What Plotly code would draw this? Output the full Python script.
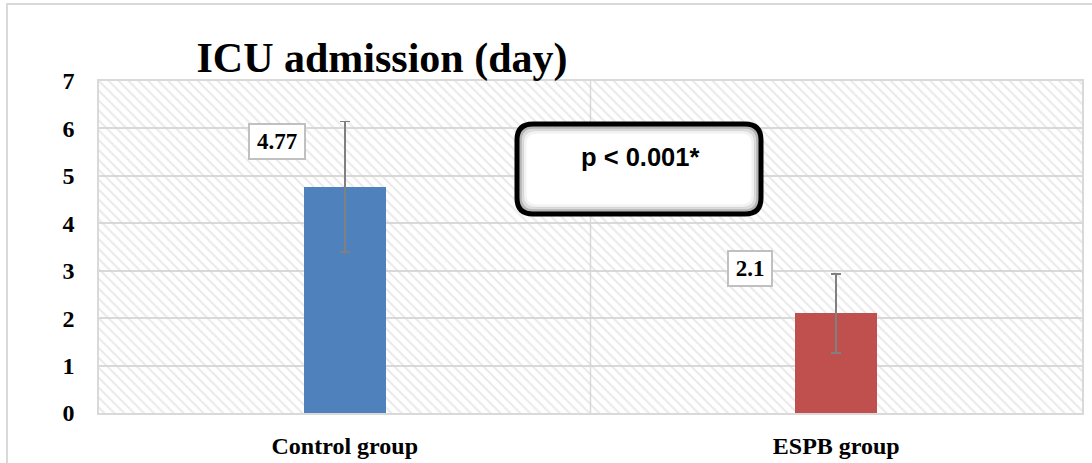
import plotly.graph_objects as go

# ---- data ----
categories = ["Control group", "ESPB group"]
means = [4.77, 2.1]
sds = [1.38, 0.83]
label_texts = ["4.77", "2.1"]
title_text = "ICU admission (day)"
p_text = "p < 0.001*"
y_ticks = [0, 1, 2, 3, 4, 5, 6, 7]

# ---- layout geometry (pixels) ----
W, H = 1092, 463
L, R, T, B = 99, 10, 81, 50
PW, PH = W - L - R, H - T - B

def px(xp):
    return (xp - L) / PW

def py(yp):
    return (H - B - yp) / PH

bar_colors = ["#4f81bd", "#c0504d"]
xpos = [0.5, 1.5]

fig = go.Figure()

# hatched plot-area background
fig.add_trace(go.Bar(
    x=[1], y=[max(y_ticks)], width=[2],
    marker=dict(color="rgba(0,0,0,0)", line=dict(width=0),
                pattern=dict(shape="\\", fgcolor="#d4d4d4", bgcolor="rgba(0,0,0,0)",
                             size=7, solidity=0.28)),
    hoverinfo="skip", showlegend=False))

# data bars
fig.add_trace(go.Bar(
    x=xpos, y=means, width=0.167,
    marker=dict(color=bar_colors, line=dict(width=0)),
    error_y=dict(type="data", array=sds, visible=True, color="#808080",
                 thickness=1.6, width=5),
    showlegend=False))

# data labels
xshifts = [-68, -86]
widths = [46, 34]
for xv, m, t, xs, w in zip(xpos, means, label_texts, xshifts, widths):
    fig.add_annotation(x=xv, y=m, text=f"<b>{t}</b>", showarrow=False,
                       xshift=xs, yshift=45, xref="x", yref="y",
                       xanchor="center", yanchor="middle",
                       font=dict(family="Liberation Serif", size=23, color="black"),
                       bgcolor="white", bordercolor="#c0c0c0", borderwidth=2,
                       borderpad=4, width=w)

# rounded p-value box with inner shadow
def rounded(x0, y0, x1, y1, r):
    return (f"M {px(x0 + r)},{py(y0)} L {px(x1 - r)},{py(y0)} "
            f"Q {px(x1)},{py(y0)} {px(x1)},{py(y0 + r)} "
            f"L {px(x1)},{py(y1 - r)} Q {px(x1)},{py(y1)} {px(x1 - r)},{py(y1)} "
            f"L {px(x0 + r)},{py(y1)} Q {px(x0)},{py(y1)} {px(x0)},{py(y1 - r)} "
            f"L {px(x0)},{py(y0 + r)} Q {px(x0)},{py(y0)} {px(x0 + r)},{py(y0)} Z")

bx0, by0, bx1, by1 = 517, 124, 761, 214
fig.add_shape(type="path", path=rounded(bx0, by0, bx1, by1, 16), xref="paper", yref="paper",
              fillcolor="white", line=dict(width=0), layer="above")
for inset, alpha, lw in [(3, 0.45, 3), (5.5, 0.22, 3), (8, 0.08, 3)]:
    fig.add_shape(type="path",
                  path=rounded(bx0 + inset, by0 + inset, bx1 - inset, by1 - inset, 16 - inset / 2),
                  xref="paper", yref="paper", fillcolor="rgba(0,0,0,0)",
                  line=dict(width=lw, color=f"rgba(90,90,90,{alpha})"), layer="above")
fig.add_shape(type="path", path=rounded(bx0, by0, bx1, by1, 16), xref="paper", yref="paper",
              fillcolor="rgba(0,0,0,0)", line=dict(width=5, color="black"), layer="above")
fig.add_annotation(x=px(640), y=py(157), xref="paper", yref="paper", showarrow=False,
                   xanchor="center", yanchor="middle",
                   text=f"<b>{p_text}</b>",
                   font=dict(family="Liberation Sans", size=25.5, color="black"))

# category separator
fig.add_shape(type="line", x0=1, x1=1, y0=0, y1=max(y_ticks), xref="x", yref="y",
              line=dict(color="#d9d9d9", width=1.5), layer="below")

# outer chart border
fig.add_shape(type="rect", xref="paper", yref="paper",
              x0=px(7), x1=px(W + 10), y0=py(H + 10), y1=py(4),
              line=dict(color="#d9d9d9", width=2), fillcolor="rgba(0,0,0,0)", layer="below")

fig.update_layout(
    width=W, height=H,
    margin=dict(l=L, r=R, t=T, b=B, autoexpand=False),
    paper_bgcolor="white", plot_bgcolor="white",
    barmode="overlay", bargap=0,
    title=dict(text=f"<b>{title_text}</b>", x=382 / W, xanchor="center",
               y=1 - 57 / H, yanchor="middle", xref="container", yref="container",
               font=dict(family="Liberation Serif", size=42, color="black")),
    xaxis=dict(range=[0, 2], tickvals=xpos, ticktext=[f"<b>{c}</b>" for c in categories],
               showgrid=False, zeroline=False, showline=True, mirror=True,
               linecolor="#d9d9d9", linewidth=1.5, automargin=False,
               ticks="outside", ticklen=10, tickcolor="rgba(0,0,0,0)",
               tickfont=dict(family="Liberation Serif", size=24, color="black")),
    yaxis=dict(range=[0, max(y_ticks)], tickvals=y_ticks,
               ticktext=[f"<b>{v}</b>" for v in y_ticks],
               showgrid=True, gridcolor="#d9d9d9", gridwidth=1.5, zeroline=False,
               showline=True, mirror=True, linecolor="#d9d9d9", linewidth=1.5,
               automargin=False,
               ticks="outside", ticklen=18, tickcolor="rgba(0,0,0,0)",
               tickfont=dict(family="Liberation Serif", size=24, color="black")),
    font=dict(family="Liberation Serif"),
)

fig.write_html("out.html", config={"displayModeBar": False},
               post_script="document.body.style.margin='0';")
